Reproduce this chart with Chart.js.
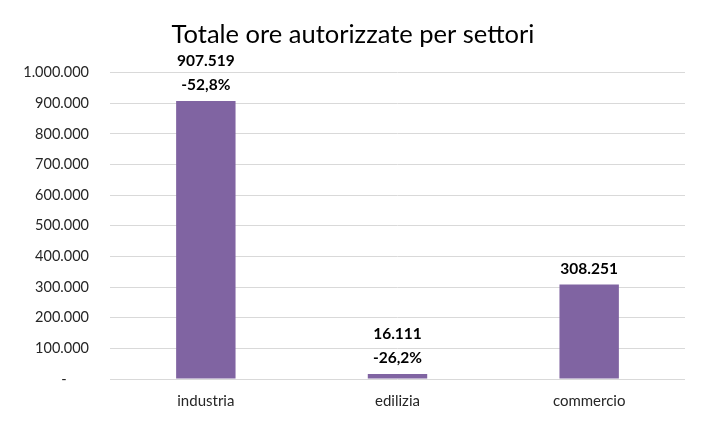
<!DOCTYPE html>
<html>
<head>
<meta charset="utf-8">
<script src="https://cdn.jsdelivr.net/npm/chart.js@4"></script>
<style>
  html, body { margin: 0; padding: 0; background: #fff; }
  #wrap { width: 709px; height: 427px; }
</style>
</head>
<body>
<div id="wrap"><canvas id="barChart"></canvas></div>
<script>
// Data
const categories = ['industria', 'edilizia', 'commercio'];
const hours = [907519, 16111, 308251];
const changes = ['-52,8%', '-26,2%', null];

const fmt = v => v.toLocaleString('it-IT');

// Two-line labels over each bar
const barLabels = {
    id: 'barLabels',
    afterDatasetsDraw(chart) {
        let ctx = chart.ctx;
        let meta = chart.getDatasetMeta(0);
        ctx.save();
        ctx.font = 'bold 15.5px Lato';
        ctx.fillStyle = '#000';
        ctx.textAlign = 'center';
        ctx.textBaseline = 'middle';
        meta.data.forEach((bar, i) => {
            let lines = [fmt(hours[i])];
            if (changes[i]) lines.push(changes[i]);
            let y = bar.y - 16;
            for (let k = lines.length - 1; k >= 0; k--) {
                ctx.fillText(lines[k], bar.x, y);
                y -= 24;
            }
        });
        ctx.restore();
    }
};

let ctx = document.getElementById('barChart').getContext('2d');
let chart = new Chart(ctx, {
    type: 'bar',
    data: {
        labels: categories,
        datasets: [{
            data: hours,
            backgroundColor: '#8064A2',
            barPercentage: 0.31,
            categoryPercentage: 1
        }]
    },
    options: {
        responsive: true,
        maintainAspectRatio: false,
        animation: false,
        layout: { padding: { left: 21, right: 24, top: 0, bottom: 17 } },
        plugins: {
            legend: { display: false },
            tooltip: { enabled: false },
            title: {
                display: true,
                text: 'Totale ore autorizzate per settori',
                color: '#000',
                font: { family: 'Lato', size: 25.5, weight: 'normal' },
                padding: { top: 19, bottom: 23 }
            }
        },
        scales: {
            x: {
                grid: { display: false, drawTicks: false },
                border: { display: false },
                afterFit: scale => { scale.height = 31; },
                ticks: {
                    color: '#262626',
                    font: { family: 'Lato', size: 15 },
                    padding: 13
                }
            },
            y: {
                min: 0,
                max: 1000000,
                border: { display: false },
                grid: { color: '#d9d9d9', drawTicks: false },
                afterFit: scale => { scale.width = 89; },
                ticks: {
                    stepSize: 100000,
                    padding: 21,
                    color: '#262626',
                    font: { family: 'Lato', size: 14.5 },
                    callback: v => v === 0 ? '-      ' : fmt(v)
                }
            }
        }
    },
    plugins: [barLabels]
});
</script>
</body>
</html>
